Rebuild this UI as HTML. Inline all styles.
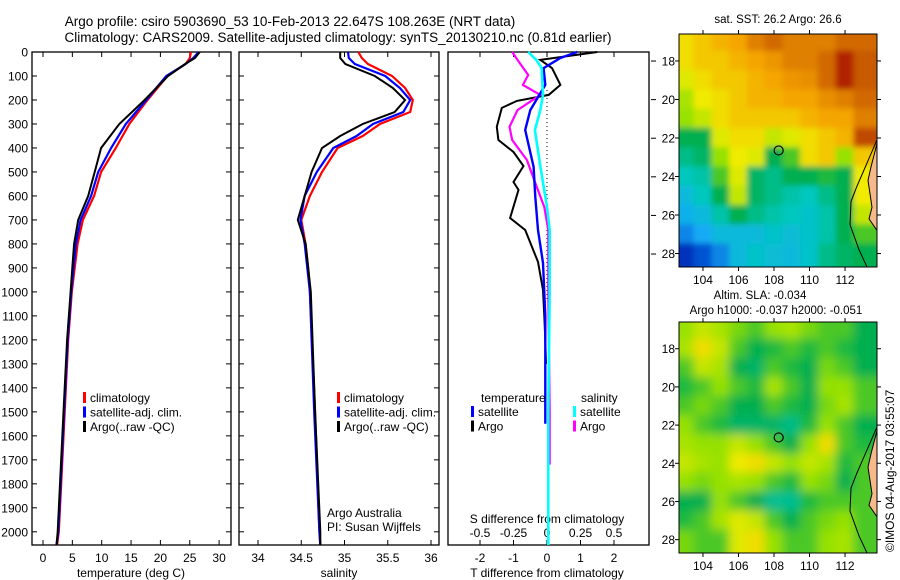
<!DOCTYPE html>
<html><head><meta charset="utf-8">
<style>
html,body{margin:0;padding:0;background:#fff;}
svg{display:block;font-family:"Liberation Sans",sans-serif;}
text{fill:#000;}
</style></head>
<body>
<svg id="fig" width="900" height="580" viewBox="0 0 900 580" xmlns="http://www.w3.org/2000/svg">
<text x="290" y="26" font-size="13.5" text-anchor="middle">Argo profile: csiro 5903690_53 10-Feb-2013 22.647S 108.263E (NRT data)</text>
<text x="338" y="42" font-size="13.5" text-anchor="middle">Climatology: CARS2009. Satellite-adjusted climatology: synTS_20130210.nc (0.81d earlier)</text>
<g id="g"></g>
<text transform="translate(894,552) rotate(-90)" font-size="12">©IMOS 04-Aug-2017 03:55:07</text>
</svg>
<script>
// ---- temperature panel data ----
const tDepth = [0,25,50,100,200,300,400,500,600,700,800,900,1000,1200,1500,1800,2000,2055];
const tClim  = [25.2,25.0,24.3,21.2,17.8,14.7,12.4,9.9,8.7,6.8,5.9,5.4,4.9,4.3,3.7,3.1,2.7,2.4];
const tSat   = [26.5,25.6,24.3,21.0,17.6,14.1,11.6,9.4,8.2,6.4,5.6,5.2,4.8,4.2,3.6,3.0,2.6,2.3];
const tArgo  = [26.7,25.9,24.2,21.3,17.3,13.0,9.9,8.8,7.7,6.0,5.3,5.0,4.7,4.1,3.5,2.9,2.5,2.3];
// ---- salinity panel data ----
const sDepth = [0,25,50,100,150,200,250,300,350,400,500,600,700,800,900,1000,1500,2000,2055];
const sClim  = [35.16,35.20,35.27,35.55,35.70,35.79,35.76,35.41,35.21,34.92,34.74,34.60,34.50,34.55,34.58,34.60,34.66,34.71,34.72];
const sSat   = [35.04,35.05,35.12,35.47,35.64,35.76,35.68,35.33,35.14,34.87,34.68,34.54,34.49,34.54,34.57,34.60,34.65,34.71,34.72];
const sArgo  = [34.95,34.95,35.01,35.35,35.56,35.70,35.58,35.21,34.95,34.74,34.62,34.54,34.46,34.55,34.58,34.61,34.66,34.72,34.72];
// ---- difference panel data ----
const dTArgoDepth = [0,33,67,137,179,204,233,312,367,417,475,542,575,692,742,875,992,1100,1200,1300];
const dTArgo = [1.5,-0.2,0.15,0.4,0.05,-0.9,-1.35,-1.5,-1.45,-1.0,-0.7,-1.0,-0.85,-1.1,-0.65,-0.27,-0.12,-0.08,-0.05,-0.03];
const dTSatDepth = [0,25,67,137,242,325,479,604,742,879,1100,1300,1550];
const dTSat = [0.9,0.4,-0.1,-0.05,-0.5,-0.65,-0.4,-0.35,-0.27,-0.12,-0.05,-0.05,-0.05];
const dSArgoDepth = [0,33,96,137,179,242,312,367,450,542,646,742,1000,1500,1720];
const dSArgo = [-0.26,-0.22,-0.14,-0.18,-0.05,-0.22,-0.28,-0.26,-0.15,-0.09,-0.02,0.01,0.01,0.02,0.02];
const dSSatDepth = [0,33,67,179,242,325,475,646,742,1000,1500,2055];
const dSSat = [-0.14,-0.08,-0.04,-0.03,-0.05,-0.09,-0.05,0.0,0.02,0.02,0.01,0.01];
// ---- map data (fraction of colour scale), rows lat 17..28, cols lon 103..113 ----
const sstGrid = [
[.72,.75,.78,.80,.85,.88,.85,.85,.85,.88,.88],
[.72,.75,.75,.78,.80,.82,.85,.85,.88,.96,.90],
[.68,.72,.75,.75,.78,.80,.82,.83,.88,.96,.90],
[.62,.70,.72,.75,.78,.78,.80,.80,.83,.85,.88],
[.60,.65,.72,.75,.75,.75,.75,.78,.80,.80,.85],
[.50,.50,.68,.72,.72,.65,.68,.72,.75,.78,.92],
[.45,.48,.60,.70,.68,.50,.55,.72,.75,.60,.75],
[.40,.42,.55,.68,.48,.45,.50,.50,.52,.50,.70],
[.35,.40,.50,.65,.48,.45,.42,.40,.45,.50,.70],
[.32,.35,.42,.50,.45,.42,.40,.38,.42,.50,.65],
[.25,.30,.35,.35,.35,.38,.36,.38,.42,.50,.55],
[.12,.18,.25,.35,.38,.36,.35,.38,.45,.48,.50]];
const slaGrid = [
[.60,.65,.62,.58,.55,.60,.62,.58,.55,.55,.50],
[.62,.72,.65,.55,.50,.52,.55,.52,.55,.52,.50],
[.55,.65,.62,.50,.48,.55,.52,.50,.58,.55,.50],
[.52,.55,.60,.55,.52,.62,.55,.50,.60,.60,.55],
[.55,.58,.55,.50,.50,.55,.52,.50,.58,.62,.55],
[.60,.55,.52,.48,.48,.48,.45,.52,.60,.55,.50],
[.62,.60,.60,.65,.60,.55,.50,.60,.72,.55,.52],
[.65,.62,.60,.70,.72,.65,.60,.65,.62,.52,.55],
[.60,.58,.60,.62,.60,.55,.52,.60,.58,.50,.55],
[.50,.50,.60,.55,.50,.44,.44,.52,.55,.55,.55],
[.52,.55,.62,.68,.65,.55,.50,.55,.58,.60,.55],
[.58,.55,.55,.68,.72,.60,.55,.55,.60,.62,.55]];
const mapLonTicks = [104,106,108,110,112];
const mapLatTicks = [18,20,22,24,26,28];
const argoLon = 108.263, argoLat = 22.647;

const NS="http://www.w3.org/2000/svg";
const G=document.getElementById('g');
function el(tag,attrs,parent){const e=document.createElementNS(NS,tag);for(const k in attrs)e.setAttribute(k,attrs[k]);(parent||G).appendChild(e);return e;}
function txt(x,y,s,size,anchor,parent){const t=el('text',{x:x,y:y,'font-size':size,'text-anchor':anchor||'start'},parent);t.textContent=s;return t;}

const Y0=52, Y1=545, DMAX=2055;
const yD=d=>Y0+(d/DMAX)*(Y1-Y0);
const xT=v=>43+v*5.87;
const xS=v=>258+(v-34)*86.5;
const xDT=v=>547+v*33.5;
const xDS=v=>547+v*134;

function frame(x0,x1,name){
  const r=el('rect',{x:x0,y:Y0,width:x1-x0,height:Y1-Y0,fill:'none',stroke:'#000','stroke-width':1.3});
  
  
}
function line(xs,ds,fx,color,name,w){
  const pts=xs.map((v,i)=>fx(v).toFixed(1)+','+yD(ds[i]).toFixed(1)).join(' ');
  const p=el('polyline',{points:pts,fill:'none',stroke:color,'stroke-width':w||2.2,'stroke-linejoin':'miter'});
  
  
}

// Panel 1
frame(32,231,'temperature-panel');
for(let d=0;d<=2000;d+=100){
  const y=yD(d);
  el('line',{x1:32,x2:37,y1:y,y2:y,stroke:'#000'});
  el('line',{x1:226,x2:231,y1:y,y2:y,stroke:'#000'});
  const t=txt(28,y+4.5,String(d),12,'end');
  
  
}
for(let v=0;v<=30;v+=5){
  const x=xT(v);
  el('line',{x1:x,x2:x,y1:Y1,y2:Y1-5,stroke:'#000'});
  el('line',{x1:x,x2:x,y1:Y0,y2:Y0+5,stroke:'#000'});
  const t=txt(x,562,String(v),12,'middle');
  
  
}
const xl1=txt(131,577,'temperature (deg C)',12,'middle');


line(tClim,tDepth,xT,'#f00','temp-climatology-line');
line(tSat,tDepth,xT,'#00f','temp-satellite-line');
line(tArgo,tDepth,xT,'#000','temp-argo-line',2);

function legend(x,y0,items,prefix){
  items.forEach((it,i)=>{
    const y=y0+i*14.5;
    const m=el('rect',{x:x,y:y-10,width:3,height:11,fill:it[1]});
    
    
    const t=txt(x+7,y,it[0],12,'start');
    
    
  });
}
legend(83,402,[['climatology','#f00'],['satellite-adj. clim.','#00f'],['Argo(..raw -QC)','#000']],'temp');

// Panel 2
frame(239,439,'salinity-panel');
for(let d=0;d<=2000;d+=100){const y=yD(d);el('line',{x1:239,x2:244,y1:y,y2:y,stroke:'#000'});el('line',{x1:434,x2:439,y1:y,y2:y,stroke:'#000'});}
[34,34.5,35,35.5,36].forEach(v=>{
  const x=xS(v);
  el('line',{x1:x,x2:x,y1:Y1,y2:Y1-5,stroke:'#000'});
  el('line',{x1:x,x2:x,y1:Y0,y2:Y0+5,stroke:'#000'});
  const t=txt(x,562,String(v),12,'middle');
  
  
});
const xl2=txt(339,577,'salinity',12,'middle');


line(sClim,sDepth,xS,'#f00','sal-climatology-line');
line(sSat,sDepth,xS,'#00f','sal-satellite-line');
line(sArgo,sDepth,xS,'#000','sal-argo-line',2);
legend(337,402,[['climatology','#f00'],['satellite-adj. clim.','#00f'],['Argo(..raw -QC)','#000']],'sal');
const aa=txt(327,517,'Argo Australia',12,'start');
const pi=txt(327,531,'PI: Susan Wijffels',12,'start');

// Panel 3
frame(448,649,'difference-panel');
[-2,-1,0,1,2].forEach(v=>{
  const x=xDT(v);
  el('line',{x1:x,x2:x,y1:Y1,y2:Y1-5,stroke:'#000'});
  const t=txt(x,562,String(v),12,'middle');
  
  
});
[-0.5,-0.25,0,0.25,0.5].forEach(v=>{
  const x=xDS(v);
  el('line',{x1:x,x2:x,y1:Y0,y2:Y0+5,stroke:'#000'});
  const t=txt(x,537,String(v),12,'middle');
  
  
});
mapLatTicks.forEach((v,i)=>{const y=34+(v-16.6)*19.3;el('line',{x1:651,x2:656,y1:y,y2:y,stroke:'#000'});});
el('line',{x1:547,x2:547,y1:90,y2:300,stroke:'#000','stroke-dasharray':'1,3'});
const sd=txt(547,523,'S difference from climatology',12,'middle');
const td=txt(547,577,'T difference from climatology',12,'middle');
line(dTArgo,dTArgoDepth,xDT,'#000','t-diff-argo-line',2);
line(dSArgo,dSArgoDepth,xDS,'#f0f','s-diff-argo-line');
line(dTSat,dTSatDepth,xDT,'#00f','t-diff-satellite-line',2.4);
line(dSSat,dSSatDepth,xDS,'#0ff','s-diff-satellite-line',2.6);
const lt=txt(481,402,'temperature',12,'start');
const ls=txt(581,402,'salinity',12,'start');
legend(471,416,[['satellite','#00f'],['Argo','#000']],'tdiff');
legend(573,416,[['satellite','#0ff'],['Argo','#f0f']],'sdiff');

// Maps
const stops=[[0,[0,0,140]],[0.15,[0,60,200]],[0.3,[20,170,245]],[0.4,[0,200,190]],[0.5,[0,175,80]],[0.6,[150,225,0]],[0.7,[240,235,0]],[0.8,[245,165,0]],[0.9,[200,90,0]],[1,[160,0,0]]];
function col(v){for(let i=1;i<stops.length;i++){if(v<=stops[i][0]){const a=stops[i-1],b=stops[i],f=(v-a[0])/(b[0]-a[0]);const c=a[1].map((c0,k)=>Math.round(c0+(b[1][k]-c0)*f));return 'rgb('+c.join(',')+')';}}return 'rgb(160,0,0)';}
function drawMap(y0,y1,grid,name,blurId){
  const x0=679,x1=877;
  const lon=v=>x0+(v-102.65)*(x1-x0)/(113.8-102.65);
  const lat=v=>y0+(v-16.6)*(y1-y0)/(28.7-16.6);
  const clipId='clip'+y0;
  const cp=el('clipPath',{id:clipId});el('rect',{x:x0,y:y0,width:x1-x0,height:y1-y0},cp);
  const g=el('g',{'clip-path':'url(#'+clipId+')'});
  
  
  const inner=el('g',{filter:'url(#'+blurId+')'},g);
  const nr=grid.length, nc=grid[0].length, P=15;
  grid.forEach((row,r)=>row.forEach((v,c)=>{
    let x=lon(102.5+c)-0.5, w=lon(103.5+c)-lon(102.5+c)+1;
    let y=lat(16.5+r)-0.5, h=lat(17.5+r)-lat(16.5+r)+1;
    if(c===0){x-=P;w+=P;} if(c===nc-1){w+=P;}
    if(r===0){y-=P;h+=P;} if(r===nr-1){h+=P;}
    const cell=el('rect',{x:x,y:y,width:w,height:h,fill:col(v)},inner);
    
    
  }));
  el('path',{d:`M${x1} ${lat(22.3)} L${x1-6} ${lat(23.5)} L${x1-9} ${lat(24.2)} L${x1-5} ${lat(25.6)} L${x1-8} ${lat(26.2)} L${x1} ${lat(26.8)} Z`,fill:'#f5b98a',stroke:'#000','stroke-width':1},g);
  el('polyline',{points:`${x1},${lat(22.1)} ${x1-10},${lat(23.3)} ${x1-20},${lat(24.5)} ${x1-26},${lat(25.3)} ${x1-27},${lat(26.5)} ${x1-18},${lat(27.8)} ${x1-10},${lat(28.7)}`,fill:'none',stroke:'#000','stroke-width':1},g);
  el('rect',{x:x0,y:y0,width:x1-x0,height:y1-y0,fill:'none',stroke:'#000','stroke-width':1});
  const mk=el('circle',{cx:lon(argoLon),cy:lat(argoLat),r:4.5,fill:'none',stroke:'#000','stroke-width':1.2});
  
  
  mapLonTicks.forEach(v=>{const x=lon(v);el('line',{x1:x,x2:x,y1:y0,y2:y0-4,stroke:'#000'});el('line',{x1:x,x2:x,y1:y1,y2:y1+4,stroke:'#000'});
    const t=txt(x,y1+17,String(v),12,'middle');});
  mapLatTicks.forEach(v=>{const y=lat(v);el('line',{x1:x0,x2:x0-4,y1:y,y2:y,stroke:'#000'});el('line',{x1:x1,x2:x1+4,y1:y,y2:y,stroke:'#000'});
    const t=txt(x0-4,y+4.5,String(v),12,'end');});
}
const defs=el('defs',{});
const f=el('filter',{id:'blur',x:'-10%',y:'-10%',width:'120%',height:'120%'},defs);el('feGaussianBlur',{stdDeviation:5},f);
const f2=el('filter',{id:'blur2',x:'-10%',y:'-10%',width:'120%',height:'120%'},defs);el('feGaussianBlur',{stdDeviation:3},f2);
drawMap(34,267,sstGrid,'sst-map','blur2');
drawMap(322,553,slaGrid,'sla-map','blur');
const m1=txt(778,23,'sat. SST: 26.2 Argo: 26.6',11.5,'middle');
const m2=txt(760,299,'Altim. SLA: -0.034',11.5,'middle');
const m3=txt(776,314,'Argo h1000: -0.037 h2000: -0.051',11.5,'middle');
</script>
</body></html>
